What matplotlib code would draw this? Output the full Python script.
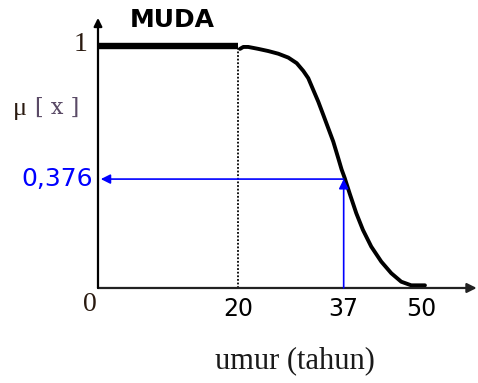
import matplotlib
matplotlib.use("Agg")
import matplotlib.pyplot as plt

# ---- data ----
# flat part of the "MUDA" set (mu = 1 from 0 to 20)
flat_x = [0, 20]
flat_mu = [1, 1]
# decreasing curve after 20 (x in axis units where 20 sits at its label)
curve_x = [20.29, 20.76, 21.47, 22.90, 24.33, 25.76, 27.19, 28.39, 29.33, 30.04,
           30.76, 31.47, 32.19, 32.90, 33.61, 34.33, 34.80, 35.24, 35.95, 36.90,
           37.85, 39.04, 40.47, 41.90, 43.32, 44.75, 46.71]
curve_mu = [0.988, 0.996, 0.996, 0.988, 0.979, 0.968, 0.952, 0.929, 0.897, 0.867,
            0.818, 0.770, 0.715, 0.660, 0.605, 0.536, 0.490, 0.455, 0.391, 0.309,
            0.240, 0.171, 0.109, 0.061, 0.026, 0.011, 0.011]
# x tick positions (as drawn) and their labels
tick_pos = [20.1, 35.1, 46.2]
tick_labels = ["20", "37", "50"]
# marked point
mark_x = 35.1
mark_mu = 0.45
mark_label = "0,376"
x_axis_end = 54.1
y_axis_end = 1.116

fig = plt.figure(figsize=(4.78, 3.83), dpi=100)
ax = fig.add_axes([0, 0, 1, 1])
ax.set_xlim(-14, 54.29)
ax.set_ylim(-0.3926, 1.190)
ax.axis("off")

# axes with arrows
ax.annotate("", xy=(x_axis_end, 0), xytext=(0, 0),
            arrowprops=dict(arrowstyle="-|>", lw=1.6, color="#222222",
                            mutation_scale=14, shrinkA=0, shrinkB=0))
ax.annotate("", xy=(0, y_axis_end), xytext=(0, 0),
            arrowprops=dict(arrowstyle="-|>", lw=1.6, color="black",
                            mutation_scale=12, shrinkA=0, shrinkB=0))

# membership function
ax.plot(flat_x, flat_mu, color="black", lw=4.6, solid_capstyle="butt")
ax.plot(curve_x, curve_mu, color="black", lw=2.8, solid_capstyle="round",
        solid_joinstyle="round")
ax.plot([flat_x[1], flat_x[1]], [0, 1], color="black", lw=1.3, linestyle=(0, (1, 1)))

# blue marker arrows
ax.annotate("", xy=(mark_x, mark_mu), xytext=(mark_x, 0),
            arrowprops=dict(arrowstyle="-|>", lw=1.2, color="#0000ff",
                            mutation_scale=14, shrinkA=0, shrinkB=0))
ax.annotate("", xy=(0.4, mark_mu), xytext=(mark_x, mark_mu),
            arrowprops=dict(arrowstyle="-|>", lw=1.2, color="#0000ff",
                            mutation_scale=14, shrinkA=0, shrinkB=0))

# texts
ax.text(10.6, 1.107, "MUDA", fontsize=18, fontweight="bold", family="DejaVu Sans",
        ha="center", va="center", color="black")
ax.text(-2.5, 1.008, "1", fontsize=20, family="Liberation Serif",
        ha="center", va="center", color="#2a1a10")
ax.text(-11.1, 0.74, "μ", fontsize=19, family="Liberation Serif",
        ha="center", va="center", color="#2a1a10")
ax.text(-5.9, 0.745, "[ x ]", fontsize=16, family="DejaVu Serif",
        ha="center", va="center", color="#5a4a66")
ax.text(-0.7, mark_mu, mark_label, fontsize=18, family="DejaVu Sans",
        ha="right", va="center", color="#0000ff")
ax.text(-1.14, -0.07, "0", fontsize=20, family="Liberation Serif",
        ha="center", va="center", color="#2a1a10")
for p, lab in zip(tick_pos, tick_labels):
    ax.text(p, -0.087, lab, fontsize=17, family="DejaVu Sans",
            ha="center", va="center", color="black")
ax.text(28.1, -0.300, "umur (tahun)", fontsize=22, family="Liberation Serif",
        ha="center", va="center", color="#1a1a1a")

fig.savefig("out.png", dpi=100)
